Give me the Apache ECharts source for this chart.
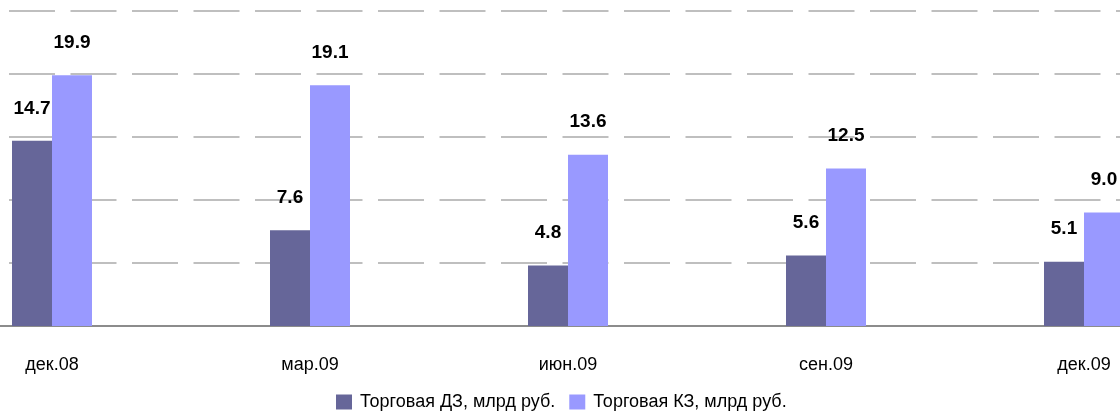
<!DOCTYPE html>
<html>
<head>
<meta charset="utf-8">
<script src="https://cdn.jsdelivr.net/npm/echarts@6/dist/echarts.min.js"></script>
<style>
  html, body { margin: 0; padding: 0; background: #fff; }
  #chart { width: 1120px; height: 414px; }
</style>
</head>
<body>
<div id="chart"></div>
<script>
var categories = ['дек.08', 'мар.09', 'июн.09', 'сен.09', 'дек.09'];
var tradeDZ = [14.7, 7.6, 4.8, 5.6, 5.1];
var tradeKZ = [19.9, 19.1, 13.6, 12.5, 9.0];

var chart = echarts.init(document.getElementById('chart'));
var font = 'Liberation Sans, Arial, sans-serif';

var barLabel = {
    show: true,
    position: 'top',
    distance: 23,
    color: '#000',
    fontSize: 19,
    fontWeight: 'bold',
    fontFamily: font,
    formatter: function (p) { return p.value.toFixed(1); }
};

var option = {
    animation: false,
    // plot area is wider than the picture, the original was cropped
    grid: { left: -77, right: -93, top: 11, bottom: 88, outerBoundsMode: 'none', containLabel: false },
    legend: {
        top: 388,
        left: 331,
        itemWidth: 16,
        itemHeight: 15,
        itemGap: 14,
        icon: 'rect',
        textStyle: { fontSize: 18, color: '#000', fontFamily: font, padding: [0, 0, 0, 3] },
        data: ['Торговая ДЗ, млрд руб.', 'Торговая КЗ, млрд руб.']
    },
    xAxis: {
        type: 'category',
        data: categories,
        axisLine: { lineStyle: { color: '#666', width: 1.5 } },
        axisTick: { show: false },
        axisLabel: { margin: 30, fontSize: 18, color: '#000', fontFamily: font }
    },
    yAxis: {
        type: 'value',
        min: 0,
        max: 25,
        interval: 5,
        axisLabel: { show: false },
        axisLine: { show: false },
        axisTick: { show: false },
        splitLine: {
            showMinLine: false,
            lineStyle: { color: '#aaaaaa', width: 1.5, type: [46, 15.5], dashOffset: 37 }
        }
    },
    series: [
        {
            name: 'Торговая ДЗ, млрд руб.',
            type: 'bar',
            data: tradeDZ,
            barWidth: 40,
            barGap: '0%',
            itemStyle: { color: '#666699' },
            label: barLabel
        },
        {
            name: 'Торговая КЗ, млрд руб.',
            type: 'bar',
            data: tradeKZ,
            barWidth: 40,
            itemStyle: { color: '#9999ff' },
            label: barLabel
        }
    ]
};

option && chart.setOption(option);
</script>
</body>
</html>
